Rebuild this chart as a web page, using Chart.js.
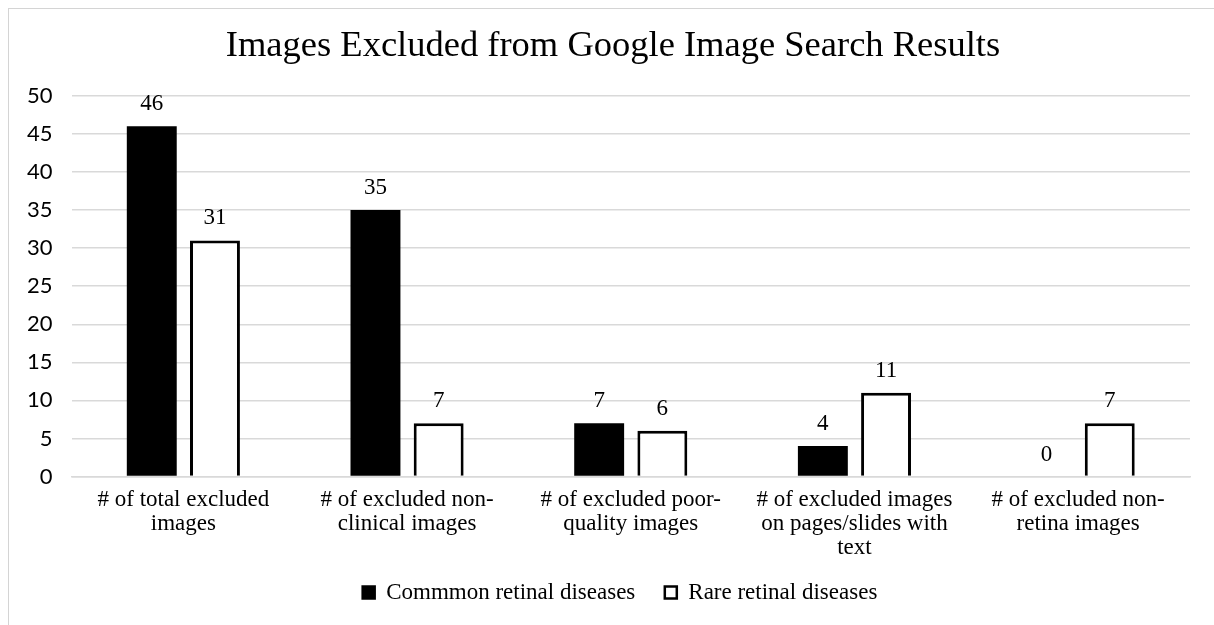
<!DOCTYPE html>
<html>
<head>
<meta charset="utf-8">
<script src="https://cdn.jsdelivr.net/npm/chart.js@4/dist/chart.umd.min.js"></script>
<style>
  html,body{margin:0;padding:0;background:#fff;}
  #wrap{position:relative;width:1214px;height:625px;overflow:hidden;}
  #frame{position:absolute;left:8px;top:8px;width:1230px;height:640px;border:1.5px solid #d4d4d4;box-sizing:border-box;}
  canvas{position:absolute;left:0;top:0;}
</style>
</head>
<body>
<div id="wrap">
  <div id="frame"></div>
  <canvas id="c" width="1214" height="625"></canvas>
</div>
<script>
const titleText = "Images Excluded from Google Image Search Results";
const categories = [
  ["# of total excluded", "images"],
  ["# of excluded non-", "clinical images"],
  ["# of excluded poor-", "quality images"],
  ["# of excluded images", "on pages/slides with", "text"],
  ["# of excluded non-", "retina images"]
];
const commonValues = [46, 35, 7, 4, 0];
const rareValues = [31, 7, 6, 11, 7];
const seriesNames = ["Commmon retinal diseases", "Rare retinal diseases"];
const yTicks = [0, 5, 10, 15, 20, 25, 30, 35, 40, 45, 50];

const serif = "'Liberation Serif', 'Times New Roman', serif";

const valueLabels = {
  id: 'valueLabels',
  afterDatasetsDraw(chart) {
    const ctx = chart.ctx;
    ctx.save();
    ctx.font = "23px " + serif;
    ctx.fillStyle = "#000";
    ctx.textAlign = "center";
    ctx.textBaseline = "alphabetic";
    chart.data.datasets.forEach((ds, i) => {
      const meta = chart.getDatasetMeta(i);
      meta.data.forEach((bar, j) => {
        ctx.fillText(String(ds.data[j]), bar.x, bar.y - 16);
      });
    });
    ctx.restore();
  }
};

// centre the title and legend on the whole frame, as in the reference
const boxShift = {
  id: 'boxShift',
  afterLayout(chart) {
    if (chart.legend) { chart.legend.left += 21; chart.legend.right += 21; }
    if (chart.titleBlock) { chart.titleBlock.left += 14; chart.titleBlock.right += 14; }
  }
};

new Chart(document.getElementById('c'), {
  type: 'bar',
  data: {
    labels: categories,
    datasets: [
      { label: seriesNames[0], data: commonValues, backgroundColor: '#000', borderColor: '#000', borderWidth: 0,
        categoryPercentage: 0.565, barPercentage: 0.79 },
      { label: seriesNames[1], data: rareValues, backgroundColor: '#fff', borderColor: '#000', borderWidth: 3,
        categoryPercentage: 0.565, barPercentage: 0.79 }
    ]
  },
  options: {
    responsive: false,
    animation: false,
    layout: { padding: { left: 8, right: 24, top: 13, bottom: 11 } },
    plugins: {
      title: {
        display: true, text: titleText, color: '#000',
        font: { family: serif, size: 36.5, weight: 'normal' },
        padding: { top: 12, bottom: 27 }
      },
      legend: {
        position: 'bottom',
        labels: {
          color: '#000', font: { family: serif, size: 23 },
          boxWidth: 12, boxHeight: 12, padding: 18,
          generateLabels(chart) {
            return chart.data.datasets.map((ds, i) => ({
              text: ds.label + (i === 0 ? '  ' : ''), fillStyle: ds.backgroundColor, strokeStyle: '#000',
              lineWidth: 2.5, hidden: false, datasetIndex: i, fontColor: '#000'
            }));
          }
        }
      },
      tooltip: { enabled: false }
    },
    scales: {
      x: {
        grid: { display: false },
        border: { display: true, color: '#d9d9d9', width: 1.5 },
        ticks: { color: '#000', font: { family: serif, size: 23, lineHeight: 1.05 }, maxRotation: 0, autoSkip: false, padding: 3 }
      },
      y: {
        min: 0, max: 50,
        afterBuildTicks(axis) { axis.ticks = yTicks.map(v => ({ value: v })); },
        grid: { color: '#d9d9d9', lineWidth: 1.5, drawTicks: false },
        border: { display: false },
        ticks: { color: '#000', font: { family: "Lato, 'Open Sans', sans-serif", size: 22 }, padding: 19 }
      }
    }
  },
  plugins: [valueLabels, boxShift]
});
</script>
</body>
</html>
